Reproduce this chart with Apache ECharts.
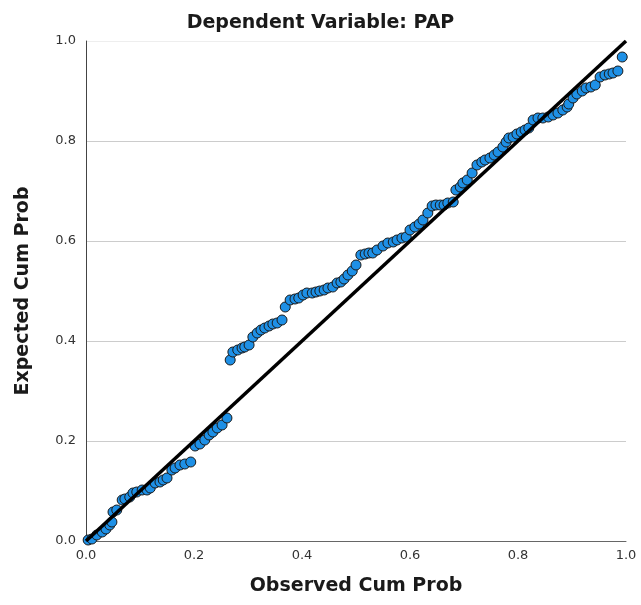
<!DOCTYPE html>
<html>
<head>
<meta charset="utf-8">
<script src="https://cdn.jsdelivr.net/npm/echarts@6/dist/echarts.min.js"></script>
<style>
    html, body {margin: 0; padding: 0; background: #fff;}
    #main {width: 641px; height: 605px;}
</style>
</head>
<body>
<div id="main"></div>
<script>
    // observed cum prob
    const observed = [
        0.004, 0.011, 0.020, 0.030, 0.037, 0.044, 0.048, 0.050, 0.057, 0.067,
        0.072, 0.081, 0.087, 0.094, 0.104, 0.113, 0.119, 0.128, 0.137, 0.143,
        0.150, 0.159, 0.165, 0.174, 0.183, 0.194, 0.202, 0.211, 0.220, 0.228,
        0.235, 0.243, 0.252, 0.261, 0.267, 0.272, 0.281, 0.289, 0.294, 0.302,
        0.309, 0.317, 0.324, 0.331, 0.339, 0.346, 0.354, 0.363, 0.369, 0.378,
        0.387, 0.394, 0.402, 0.409, 0.419, 0.426, 0.433, 0.441, 0.448, 0.457,
        0.465, 0.472, 0.478, 0.485, 0.493, 0.500, 0.509, 0.517, 0.524, 0.531,
        0.539, 0.550, 0.559, 0.569, 0.576, 0.585, 0.593, 0.600, 0.609, 0.617,
        0.624, 0.633, 0.641, 0.648, 0.656, 0.663, 0.670, 0.680, 0.685, 0.693,
        0.698, 0.706, 0.715, 0.724, 0.733, 0.739, 0.748, 0.756, 0.763, 0.772,
        0.778, 0.783, 0.791, 0.798, 0.806, 0.813, 0.820, 0.828, 0.837, 0.846,
        0.856, 0.865, 0.874, 0.883, 0.891, 0.894, 0.902, 0.909, 0.919, 0.926,
        0.935, 0.943, 0.952, 0.961, 0.969, 0.976, 0.985, 0.993
    ];
    // expected cum prob
    const expected = [
        0.002, 0.004, 0.012, 0.018, 0.024, 0.032, 0.038, 0.058, 0.062, 0.082,
        0.084, 0.088, 0.096, 0.098, 0.102, 0.102, 0.106, 0.116, 0.118, 0.122,
        0.126, 0.142, 0.146, 0.152, 0.154, 0.158, 0.190, 0.194, 0.202, 0.212,
        0.218, 0.226, 0.232, 0.246, 0.362, 0.378, 0.382, 0.386, 0.388, 0.392,
        0.408, 0.416, 0.422, 0.426, 0.430, 0.434, 0.436, 0.442, 0.468, 0.482,
        0.484, 0.486, 0.492, 0.496, 0.496, 0.498, 0.500, 0.502, 0.506, 0.508,
        0.516, 0.518, 0.524, 0.532, 0.540, 0.552, 0.572, 0.574, 0.576, 0.576,
        0.582, 0.590, 0.596, 0.598, 0.602, 0.606, 0.608, 0.622, 0.628, 0.634,
        0.642, 0.656, 0.670, 0.672, 0.672, 0.672, 0.676, 0.678, 0.702, 0.708,
        0.716, 0.722, 0.736, 0.752, 0.758, 0.762, 0.766, 0.772, 0.778, 0.788,
        0.798, 0.806, 0.808, 0.814, 0.818, 0.822, 0.826, 0.842, 0.846, 0.846,
        0.848, 0.852, 0.856, 0.862, 0.868, 0.874, 0.886, 0.894, 0.900, 0.906,
        0.908, 0.912, 0.928, 0.932, 0.934, 0.936, 0.940, 0.968
    ];
    // reference diagonal
    const refLine = [[0, 0], [1, 1]];

    const points = observed.map(function (x, i) {
        return [x, expected[i]];
    });

    const font = 'DejaVu Sans';
    const boldText = {fontFamily: font, fontSize: 19, fontWeight: 'bold', color: '#1a1a1a'};

    const option = {
        animation: false,
        backgroundColor: '#fff',
        title: {
            text: 'Dependent Variable: PAP',
            left: 'center',
            top: 9,
            textStyle: boldText
        },
        grid: {
            left: 86,
            right: 15,
            top: 41,
            bottom: 64
        },
        xAxis: {
            type: 'value',
            min: 0,
            max: 1,
            interval: 0.2,
            name: 'Observed Cum Prob',
            nameLocation: 'middle',
            nameGap: 36,
            nameTextStyle: boldText,
            axisLine: {show: true, lineStyle: {color: '#666', width: 1}},
            axisTick: {show: false},
            axisLabel: {
                fontFamily: font, fontSize: 13, color: '#333', margin: 8,
                formatter: function (v) { return v.toFixed(1); }
            },
            splitLine: {show: false}
        },
        yAxis: {
            type: 'value',
            min: 0,
            max: 1,
            interval: 0.2,
            name: 'Expected Cum Prob',
            nameLocation: 'middle',
            nameGap: 53,
            nameTextStyle: boldText,
            axisLine: {show: true, lineStyle: {color: '#444', width: 1}},
            axisTick: {show: false},
            axisLabel: {
                fontFamily: font, fontSize: 13, color: '#333', margin: 10,
                formatter: function (v) { return v.toFixed(1); }
            },
            splitLine: {
                show: true,
                lineStyle: {color: ['#ccc', '#ccc', '#ccc', '#ccc', '#ccc', '#eee'], width: 1}
            }
        },
        series: [
            {
                type: 'scatter',
                data: points,
                symbolSize: 10,
                itemStyle: {color: '#1e90e6', borderColor: '#1a1a1a', borderWidth: 1, opacity: 1},
                z: 2
            },
            {
                type: 'line',
                data: refLine,
                symbol: 'none',
                lineStyle: {color: '#000', width: 3.5},
                z: 3
            }
        ]
    };

    const chart = echarts.init(document.getElementById('main'));
    chart.setOption(option);
</script>
</body>
</html>
